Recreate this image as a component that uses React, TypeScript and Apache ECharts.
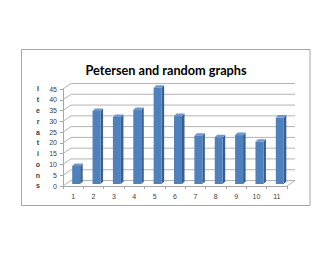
import React, { useEffect, useRef } from "react";
import * as echarts from "echarts";

const categories = ["1", "2", "3", "4", "5", "6", "7", "8", "9", "10", "11"];
const iterations = [8.4, 33.9, 31.1, 34.3, 44.6, 31.5, 22.4, 21.7, 22.7, 19.6, 30.8];
const yTicks = [0, 5, 10, 15, 20, 25, 30, 35, 40, 45];
const titleText = "Petersen and random graphs";
const yAxisTitle = "Iterations";

export default function App() {
  const ref = useRef<HTMLDivElement>(null);
  useEffect(() => {
    const chart = echarts.init(ref.current!, null, { renderer: "svg" });
    const wallDX = 8;
    const wallDY = -5.5;
    const barW = 8;
    const barOffX = 3;
    const barOffY = -2;
    const depthX = 2.5;
    const depthY = -2.5;
    chart.setOption({
      animation: false,
      backgroundColor: "#ffffff",
      title: {
        text: titleText,
        left: "center",
        top: 58,
        textStyle: { fontFamily: "Lato", fontWeight: "bold", fontSize: 12.7, color: "#000" },
      },
      grid: { left: 63, top: 89, width: 224, height: 97 },
      xAxis: {
        type: "category",
        data: categories,
        axisLine: { show: true, lineStyle: { color: "#a6a6a6", width: 1 } },
        axisTick: { show: true, length: 3, lineStyle: { color: "#a6a6a6" } },
        axisLabel: { fontSize: 7, color: "#404040", margin: 7, fontFamily: "Liberation Sans" },
      },
      yAxis: {
        type: "value",
        min: 0,
        max: 45,
        interval: 5,
        splitLine: { show: false },
        axisLine: { show: true, lineStyle: { color: "#a6a6a6", width: 1 } },
        axisTick: { show: true, length: 3, lineStyle: { color: "#a6a6a6" } },
        axisLabel: { fontSize: 7, color: "#404040", margin: 6, fontFamily: "Liberation Sans" },
      },
      graphic: [
        {
          type: "rect",
          shape: { x: 21.5, y: 49.5, width: 288.5, height: 156 },
          style: { fill: "none", stroke: "#a6a6a6", lineWidth: 1 },
          silent: true,
        },
        {
          type: "text",
          x: 38,
          y: 89 - 5.4,
          style: {
            text: yAxisTitle.split("").join("\n"),
            fontSize: 7,
            fontWeight: "bold",
            fontFamily: "Liberation Sans",
            fill: "#404040",
            lineHeight: 97 / 9,
            align: "center",
            verticalAlign: "top",
          },
        },
      ],
      series: [
        {
          type: "custom",
          clip: false,
          silent: true,
          z: 1,
          data: yTicks.map((v) => [0, v]),
          renderItem: (params: any, api: any) => {
            const cs = params.coordSys;
            const y = api.coord([0, api.value(1)])[1];
            const x0 = cs.x;
            const x1 = cs.x + cs.width;
            const children: any[] = [
              {
                type: "polyline",
                shape: {
                  points: [
                    [x0, y],
                    [x0 + wallDX, y + wallDY],
                    [x1 + wallDX, y + wallDY],
                  ],
                },
                style: { stroke: "#b3b3b3", lineWidth: 1, fill: "none" },
              },
            ];
            if (api.value(1) === 0) {
              children.push({
                type: "line",
                shape: { x1: x1, y1: y, x2: x1 + wallDX, y2: y + wallDY },
                style: { stroke: "#b3b3b3", lineWidth: 1 },
              });
            }
            return { type: "group", children };
          },
        },
        {
          type: "custom",
          clip: false,
          z: 3,
          data: iterations.map((v, i) => [i, v]),
          renderItem: (params: any, api: any) => {
            const i = api.value(0);
            const v = api.value(1);
            const top = api.coord([i, v]);
            const base = api.coord([i, 0]);
            const xl = top[0] + barOffX - barW / 2;
            const xr = xl + barW;
            const yt = top[1] + barOffY;
            const yb = base[1] + barOffY;
            return {
              type: "group",
              children: [
                {
                  type: "polygon",
                  shape: {
                    points: [
                      [xr, yt],
                      [xr + depthX, yt + depthY],
                      [xr + depthX, yb + depthY],
                      [xr, yb],
                    ],
                  },
                  style: { fill: "#3a5f8e" },
                },
                {
                  type: "polygon",
                  shape: {
                    points: [
                      [xl, yt],
                      [xl + depthX, yt + depthY],
                      [xr + depthX, yt + depthY],
                      [xr, yt],
                    ],
                  },
                  style: { fill: "#6f98cf" },
                },
                {
                  type: "rect",
                  shape: { x: xl, y: yt, width: barW, height: yb - yt },
                  style: { fill: "#4f81bd" },
                },
              ],
            };
          },
        },
      ],
    });
    return () => chart.dispose();
  }, []);
  return (
    <div
      ref={ref}
      style={{ position: "fixed", left: 0, top: 0, width: 332, height: 257 }}
    />
  );
}
